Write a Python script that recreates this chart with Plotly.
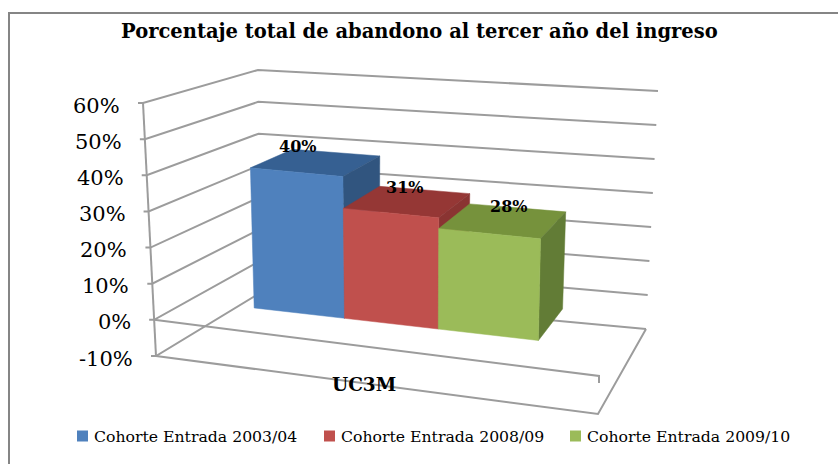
import numpy as np
import plotly.graph_objects as go

# ---- data ----
CATEGORY = "UC3M"
SERIES_NAMES = ["Cohorte Entrada 2003/04", "Cohorte Entrada 2008/09", "Cohorte Entrada 2009/10"]
SERIES_VALUES = [0.40, 0.31, 0.28]
VALUE_TICKS = [-0.10, 0.0, 0.10, 0.20, 0.30, 0.40, 0.50, 0.60]
TICK_LABELS = ["-10%", "0%", "10%", "20%", "30%", "40%", "50%", "60%"]
TITLE = "Porcentaje total de abandono al tercer año del ingreso"

# ---- styles / layout (3D view calibration of the box) ----
FACE = ["#4F81BD", "#C0504D", "#9BBB59"]
TOP = ["#366092", "#953735", "#76923C"]
SIDE = ["#31557F", "#8A3432", "#627C36"]
GRID = "#9C9C9C"
FRAME = "#858585"
FONT = "DejaVu Serif"
W, H = 838, 464
# box corners in the picture: (front/back, left/right, bottom/top)
C = {
    (0, 0, 0): (156, 356), (0, 0, 1): (143, 103),
    (0, 1, 0): (598, 414), (0, 1, 1): (605, 148),
    (1, 0, 0): (260, 293), (1, 0, 1): (258, 70),
    (1, 1, 0): (646, 329), (1, 1, 1): (658, 91),
}
VMIN, VMAX = -0.10, 0.60
BAR_EDGES = [0.153, 0.365, 0.585, 0.82]
DEPTH = (0.33, 0.74)
LABEL_SHIFT = [(-19, -16), (-3, -14), (5, -14)]
LEGEND_X = [77, 324, 570]


def project(u, v, value):
    """Map (along category, depth, value) to picture coordinates."""
    w = (value - VMIN) / (VMAX - VMIN)
    p = np.zeros(2)
    for a, fa in ((0, 1 - v), (1, v)):
        for b, fb in ((0, 1 - u), (1, u)):
            for c, fc in ((0, 1 - w), (1, w)):
                p += fa * fb * fc * np.array(C[(a, b, c)], dtype=float)
    return p


def line(points, color=GRID, width=2):
    xy = np.array(points)
    return go.Scatter(x=xy[:, 0], y=xy[:, 1], mode="lines", hoverinfo="skip", showlegend=False,
                      line=dict(color=color, width=width))


def poly(points, color, name):
    xy = np.array(points + points[:1])
    return go.Scatter(x=xy[:, 0], y=xy[:, 1], mode="lines", fill="toself", fillcolor=color, name=name,
                      line=dict(color=color, width=0.5), showlegend=False, hoverinfo="name")


fig = go.Figure()

# chart frame (left and top edges only are visible)
fig.add_trace(line([(9, H), (9, 13), (W, 13)], FRAME, 2))

# walls' gridlines with ticks on the value axis
for t in VALUE_TICKS:
    fig.add_trace(line([project(0, 0, t) + np.array([-5, 0]), project(0, 0, t), project(0, 1, t), project(1, 1, t)]))
# value axis edge, floor outline, category axis at zero with closing tick
fig.add_trace(line([project(0, 0, VMIN), project(0, 0, VMAX)]))
fig.add_trace(line([project(0, 0, VMIN), project(1, 0, VMIN), project(1, 1, VMIN)]))
fig.add_trace(line([project(0, 0, 0), project(1, 0, 0), project(1, 0, 0) + np.array([0, 7])]))

# bars, left to right
for i, val in enumerate(SERIES_VALUES):
    u0, u1 = BAR_EDGES[i], BAR_EDGES[i + 1]
    v0, v1 = DEPTH
    fig.add_trace(poly([project(u0, v0, val), project(u1, v0, val), project(u1, v1, val), project(u0, v1, val)],
                       TOP[i], SERIES_NAMES[i]))
    fig.add_trace(poly([project(u1, v0, 0), project(u1, v0, val), project(u1, v1, val), project(u1, v1, 0)],
                       SIDE[i], SERIES_NAMES[i]))
    fig.add_trace(poly([project(u0, v0, 0), project(u1, v0, 0), project(u1, v0, val), project(u0, v0, val)],
                       FACE[i], SERIES_NAMES[i]))

annotations = []


def text(x, y, s, size, bold=False, anchor="center", xs=0, ys=0):
    annotations.append(dict(x=x, y=y, xref="x", yref="y", text=f"<b>{s}</b>" if bold else s, showarrow=False,
                            xanchor=anchor, yanchor="middle", xshift=xs, yshift=ys,
                            font=dict(family=FONT, size=size, color="#000000")))


# data labels
for i, val in enumerate(SERIES_VALUES):
    p = project((BAR_EDGES[i] + BAR_EDGES[i + 1]) / 2, sum(DEPTH) / 2, val)
    text(p[0], p[1], f"{val:.0%}", 16, True, xs=LABEL_SHIFT[i][0], ys=-LABEL_SHIFT[i][1])

# value tick labels
for t, s in zip(VALUE_TICKS, TICK_LABELS):
    p = project(0, 0, t)
    text(p[0] - 21, p[1] + 2.5, s, 21, anchor="right")

text(364, 384, CATEGORY, 18.5, True)
text(419, 31, TITLE, 19.5, True)

# legend
for x, name, col in zip(LEGEND_X, SERIES_NAMES, FACE):
    fig.add_trace(go.Scatter(x=[x + 5.5], y=[436], mode="markers", hoverinfo="skip", showlegend=False,
                             marker=dict(symbol="square", size=11, color=col, line=dict(width=0))))
    text(x + 15, 436, name, 15.7, anchor="left")

fig.update_layout(
    width=W, height=H, margin=dict(l=0, r=0, t=0, b=0), autosize=False,
    paper_bgcolor="white", plot_bgcolor="white", showlegend=False, annotations=annotations,
    xaxis=dict(range=[0, W], visible=False, fixedrange=True),
    yaxis=dict(range=[H, 0], visible=False, fixedrange=True),
)
fig.write_html("out.html", config={"displayModeBar": False},
               post_script="document.body.style.margin='0';document.documentElement.style.overflow='hidden';")
